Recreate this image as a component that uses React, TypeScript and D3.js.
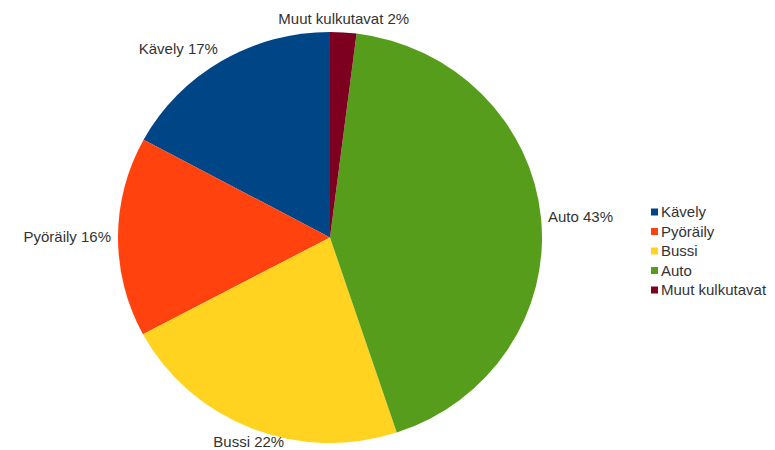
import React from "react";
import * as d3 from "d3";

const categories = ["Kävely", "Pyöräily", "Bussi", "Auto", "Muut kulkutavat"];
const values = [17.1, 15.7, 22.3, 42.9, 2.0];
const colors = ["#004586", "#ff420e", "#ffd320", "#579d1c", "#7e0021"];

const W = 775;
const H = 450;
const cx = 330;
const cy = 237.5;
const rx = 212;
const ry = 205.5;
const FONT = "'Liberation Sans', Arial, sans-serif";

export default function App() {
  const data = categories.map((c, i) => ({ name: c, value: values[i], color: colors[i] }));
  const total = d3.sum(values);
  // LibreOffice draws counterclockwise from 12 o'clock
  const pie = d3
    .pie<any>()
    .sort(null)
    .value((d: any) => d.value)
    .startAngle(0)
    .endAngle(-2 * Math.PI);
  const arcs = pie(data);
  const arc = d3.arc<any>().innerRadius(0).outerRadius(ry);

  const legendY = d3.scalePoint<string>().domain(categories).range([212, 290]);

  return (
    <svg
      width={W}
      height={H}
      style={{ position: "absolute", left: 0, top: 0, background: "#fff" }}
      fontFamily={FONT}
    >
      <rect x={0} y={0} width={W} height={H} fill="#fff" />
      <g transform={`translate(${cx},${cy}) scale(${rx / ry},1)`}>
        {arcs.map((a, i) => (
          <path key={i} d={arc(a) as string} fill={a.data.color} />
        ))}
      </g>
      {arcs.map((a, i) => {
        const mid = (a.startAngle + a.endAngle) / 2;
        const dx = Math.sin(mid);
        const dy = -Math.cos(mid);
        const px = cx + dx * (rx + 7);
        const py = cy + dy * (ry + 8);
        const anchor = Math.abs(dx) < 0.45 ? "middle" : dx < 0 ? "end" : "start";
        let baseY: number;
        if (dy < -0.45) baseY = py;
        else if (dy > 0.45) baseY = py + 11;
        else baseY = py + 5;
        const pct = Math.round((a.data.value / total) * 100);
        return (
          <text key={i} x={px} y={baseY} textAnchor={anchor} fontSize={15} fill="#333">
            {`${a.data.name} ${pct}%`}
          </text>
        );
      })}
      <g>
        {data.map((d, i) => {
          const y = legendY(d.name) as number;
          return (
            <g key={i}>
              <rect x={651} y={y - 3.5} width={7} height={7} fill={d.color} />
              <text x={661} y={y + 5} fontSize={15} fill="#333">
                {d.name}
              </text>
            </g>
          );
        })}
      </g>
    </svg>
  );
}
